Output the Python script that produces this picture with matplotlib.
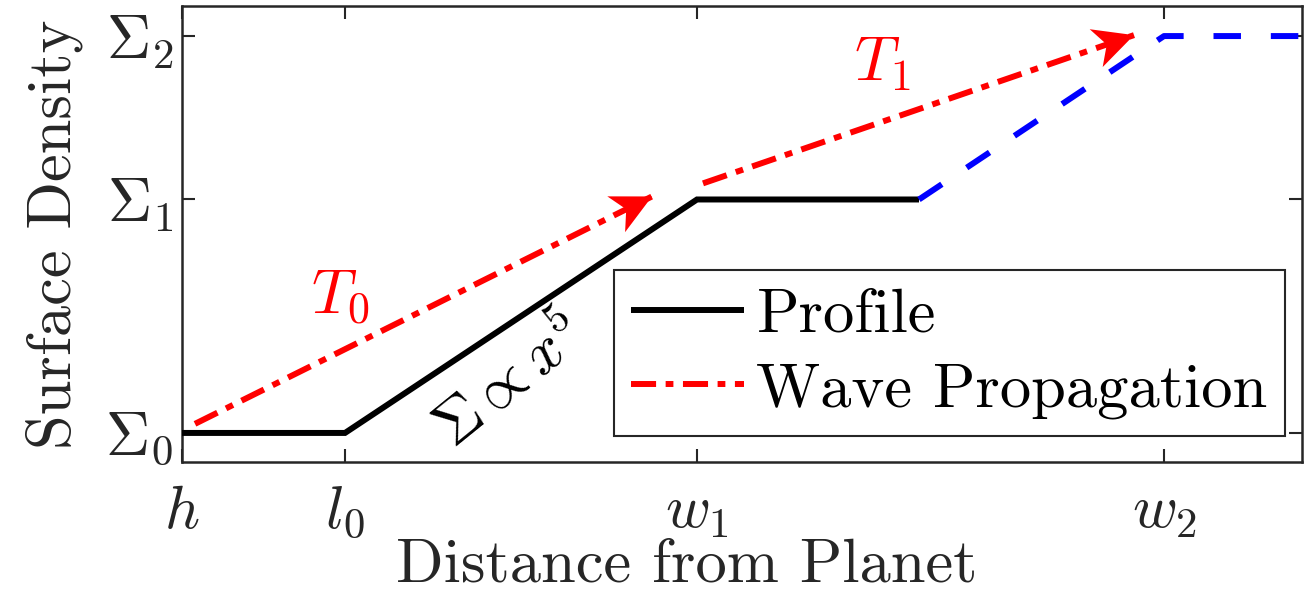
import matplotlib

matplotlib.use("Agg")

import matplotlib.pyplot as plt
import numpy as np
from matplotlib.patches import Polygon

plt.rcParams["mathtext.fontset"] = "cm"
plt.rcParams["font.family"] = "serif"
plt.rcParams["font.serif"] = ["cmr10"]
plt.rcParams["axes.unicode_minus"] = False

AX_GRAY = "#262626"

# Characteristic radii and surface-density levels (arbitrary units).
x_ticks = [0.0, 1.63, 5.15, 9.82]
x_tick_labels = [r"$h$", r"$l_0$", r"$w_1$", r"$w_2$"]
sigma_levels = [1.0, 2.0, 2.70]
sigma_labels = [r"$\Sigma_0$", r"$\Sigma_1$", r"$\Sigma_2$"]

# Density profile: flat, power-law rise, flat shelf.
profile_x = [0.0, 1.63, 5.15, 7.37]
profile_y = [1.0, 1.0, 2.0, 2.0]
# Later extension of the profile out to w2.
extension_x = [7.37, 9.82, 11.2]
extension_y = [2.0, 2.70, 2.70]

# Wave propagation arrows (start, tip).
wave_t0_x = [0.13, 4.70]
wave_t0_y = [1.039, 2.013]
wave_t1_x = [5.21, 9.52]
wave_t1_y = [2.069, 2.704]


def arrow_head(ax, x, y, color, length=40, half_width=20, notch=0.72):
    """Notched filled head at the end of the segment (x[0],y[0])->(x[1],y[1])."""
    tip = ax.transData.transform((x[1], y[1]))
    back = ax.transData.transform((x[0], y[0]))
    d = tip - back
    d = d / np.hypot(*d)
    n = np.array([-d[1], d[0]])
    base = tip - d * length
    pts = np.array([tip, base + n * half_width, tip - d * length * notch,
                    base - n * half_width])
    pts = ax.transData.inverted().transform(pts)
    ax.add_patch(Polygon(pts, closed=True, facecolor=color, edgecolor="none",
                         zorder=4))


fig = plt.figure(figsize=(13.15, 6.13), dpi=100)
ax = fig.add_axes([182 / 1315, 1 - 462 / 613, 1120 / 1315, 456 / 613])
ax.set_xlim(0, 11.2)
ax.set_ylim(1 - 29 / 233, 2.70 + 30 / 233)

ax.plot(profile_x, profile_y, color="black", lw=4.3, solid_capstyle="butt",
        solid_joinstyle="miter", label="Profile", zorder=3)
ax.plot(extension_x, extension_y, color="blue", lw=4.3,
        linestyle=(0, (4.6, 5.0)), dash_capstyle="butt", zorder=3)

dashdot = (0, (4.2, 1.6, 1.3, 1.6))
ax.plot(wave_t0_x, wave_t0_y, color="red", lw=4.3, linestyle=dashdot,
        dash_capstyle="butt", label="Wave Propagation", zorder=3)
ax.plot(wave_t1_x, wave_t1_y, color="red", lw=4.3, linestyle=dashdot,
        dash_capstyle="butt", zorder=3)
arrow_head(ax, wave_t0_x, wave_t0_y, "red")
arrow_head(ax, wave_t1_x, wave_t1_y, "red")

ax.text(1.58, 1.58, r"$T_0$", color="red", fontsize=45, ha="center",
        va="center")
ax.text(7.0, 2.58, r"$T_1$", color="red", fontsize=45, ha="center",
        va="center")
ax.text(3.28, 1.22, r"$\Sigma \propto x^5$", color="black", fontsize=44,
        rotation=39, ha="center", va="center", rotation_mode="anchor")

ax.set_xticks(x_ticks)
ax.set_xticklabels(x_tick_labels)
ax.set_yticks(sigma_levels)
ax.set_yticklabels(sigma_labels)
ax.tick_params(direction="in", top=True, right=True, length=9.5, width=1.5,
               colors=AX_GRAY, labelsize=44)
ax.tick_params(axis="x", pad=16)
ax.tick_params(axis="y", pad=6)
for s in ax.spines.values():
    s.set_linewidth(1.8)
    s.set_color(AX_GRAY)

ax.set_xlabel("Distance from Planet", fontsize=45, color=AX_GRAY)
ax.xaxis.set_label_coords(0.451, -0.168)
ax.set_ylabel("Surface Density", fontsize=45, color=AX_GRAY, labelpad=16)

leg = ax.legend(loc="lower right", bbox_to_anchor=(0.985, 0.057),
                borderaxespad=0, fontsize=45, handlelength=1.8,
                handletextpad=0.2, labelspacing=0.3, borderpad=0.28,
                fancybox=False, framealpha=1)
leg.get_frame().set_edgecolor(AX_GRAY)
leg.get_frame().set_linewidth(1.5)

fig.savefig("out.png", dpi=100)
